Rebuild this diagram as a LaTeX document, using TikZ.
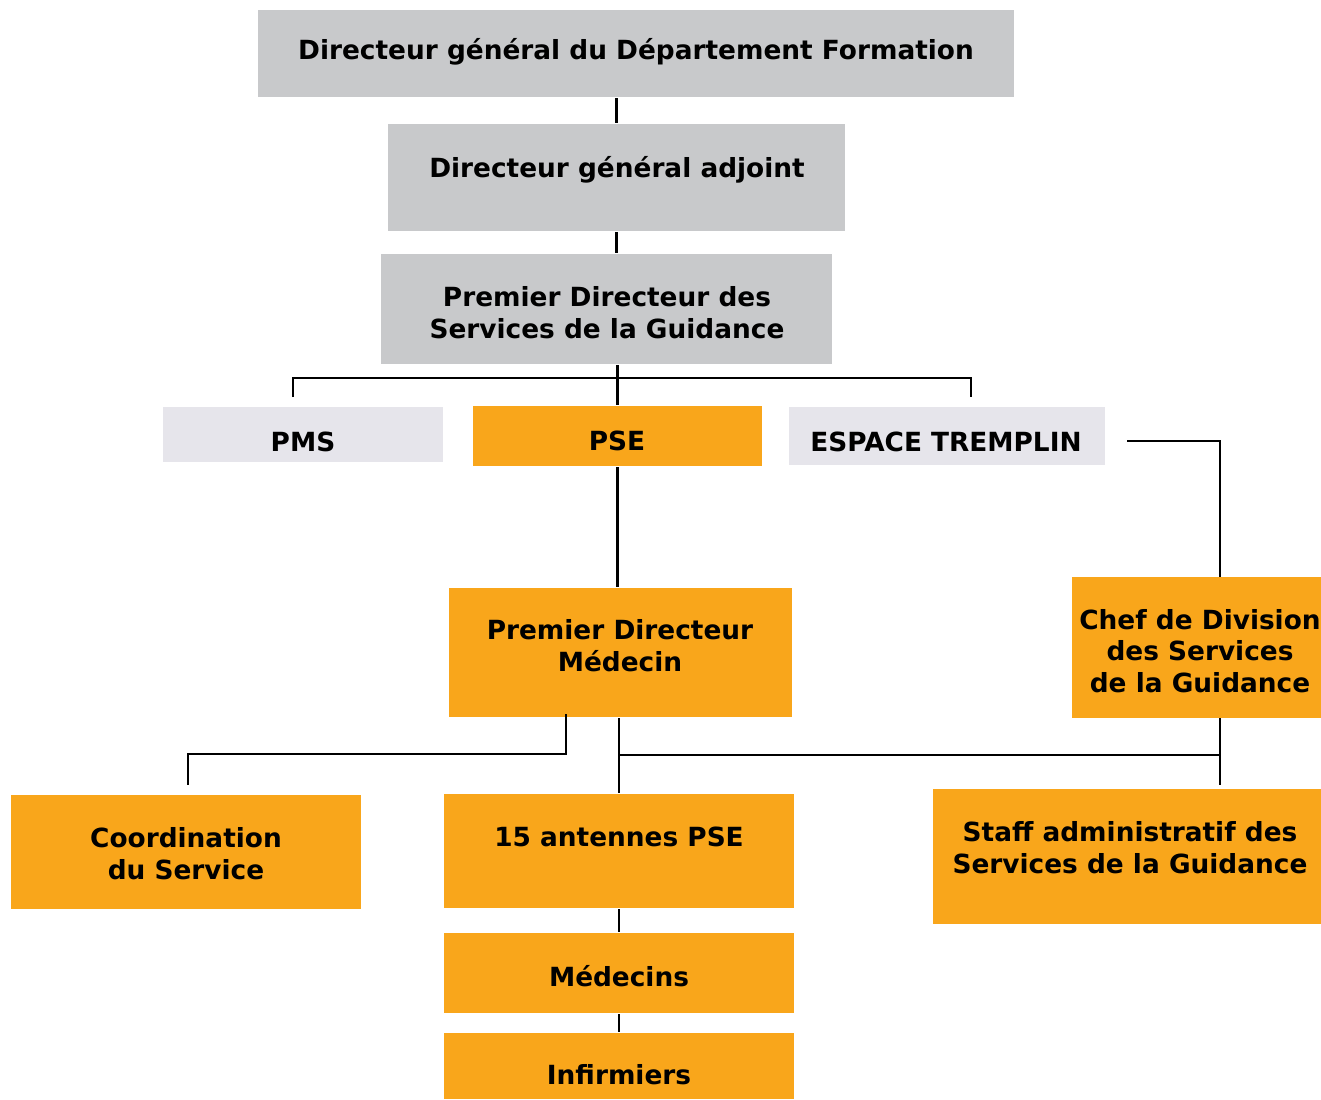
\documentclass[tikz,border=0pt]{standalone}
\usepackage{fontspec}
\setmainfont{DejaVu Sans}
\usetikzlibrary{fit}
\definecolor{dirgris}{HTML}{C8C9CB}
\definecolor{servgris}{HTML}{E6E5EB}
\definecolor{pseorange}{HTML}{F9A61B}
\begin{document}
\begin{tikzpicture}[x=0.2mm, y=-0.2mm, line width=1.6pt,
  gbox/.style={fill=dirgris, inner sep=0pt},
  lbox/.style={fill=servgris, inner sep=0pt},
  obox/.style={fill=pseorange, inner sep=0pt},
  txt/.style={font=\bfseries\fontsize{15}{18.1}\selectfont, align=center, inner sep=0pt}]
  \useasboundingbox (0,0) rectangle (1321,1099);

  % Direction
  \node[gbox, fit={(258,10) (1014,97)}] (dgf) {};
  \node[txt] (dgf-t) at (636,52) {Directeur général du Département Formation};
  \node[gbox, fit={(388,124) (845,231)}] (dga) {};
  \node[txt] (dga-t) at (617,170) {Directeur général adjoint};
  \node[gbox, fit={(381,254) (832,364)}] (pds) {};
  \node[txt] (pds-t) at (607,313) {Premier Directeur des\\Services de la Guidance};

  % Services
  \node[lbox, fit={(163,407) (443,462)}] (pms) {};
  \node[txt] (pms-t) at (303,442) {PMS};
  \node[obox, fit={(473,406) (762,466)}] (pse) {};
  \node[txt] (pse-t) at (617,441) {PSE};
  \node[lbox, fit={(789,407) (1105,465)}] (esp) {};
  \node[txt] (esp-t) at (946,442) {ESPACE TREMPLIN};

  % PSE
  \node[obox, fit={(449,588) (792,717)}] (pdm) {};
  \node[txt] (pdm-t) at (620,646) {Premier Directeur\\Médecin};
  \node[obox, fit={(1072,577) (1321,718)}] (chef) {};
  \node[txt] (chef-t) at (1200,651) {Chef de Division\\des Services\\de la Guidance};
  \node[obox, fit={(11,795) (361,909)}] (coord) {};
  \node[txt] (coord-t) at (186,854) {Coordination\\du Service};
  \node[obox, fit={(444,794) (794,908)}] (ant) {};
  \node[txt] (ant-t) at (619,837) {15 antennes PSE};
  \node[obox, fit={(933,789) (1321,924)}] (staff) {};
  \node[txt] (staff-t) at (1130,848) {Staff administratif des\\Services de la Guidance};
  \node[obox, fit={(444,933) (794,1013)}] (med) {};
  \node[txt] (med-t) at (619,976) {Médecins};
  \node[obox, fit={(444,1033) (794,1099)}] (inf) {};
  \node[txt] (inf-t) at (619,1075) {Infirmiers};

  % Free ends of the connectors
  \coordinate (bus1) at (618,378);
  \coordinate (pms-n) at (293,397);
  \coordinate (esp-n) at (971,397);
  \coordinate (esp-e) at (1127,441);
  \coordinate (chef-n) at (1220,577);
  \coordinate (chef-s) at (1220,718);
  \coordinate (staff-n) at (1220,785);
  \coordinate (pdm-w) at (566,714);
  \coordinate (coord-n) at (188,785);
  \coordinate (bus2) at (619,755);

  % Connectors
  \draw (dgf.south -| dga.north) -- (dga.north);
  \draw (dga.south) -- (dga.south |- pds.north);
  \draw (pds.south -| pse.north) -- (pse.north);
  \draw (pms-n) |- (bus1) -| (esp-n);
  \draw (esp-e) -| (chef-n);
  \draw (pse.south) -- (pse.south |- pdm.north);
  \draw (pdm-w) -- ++(0,40) -| (coord-n);
  \draw (pdm.south -| ant.north) -- (ant.north);
  \draw (bus2) -- (bus2 -| chef-s);
  \draw (chef-s) -- (staff-n);
  \draw (ant) -- (med);
  \draw (med) -- (inf);
\end{tikzpicture}
\end{document}
